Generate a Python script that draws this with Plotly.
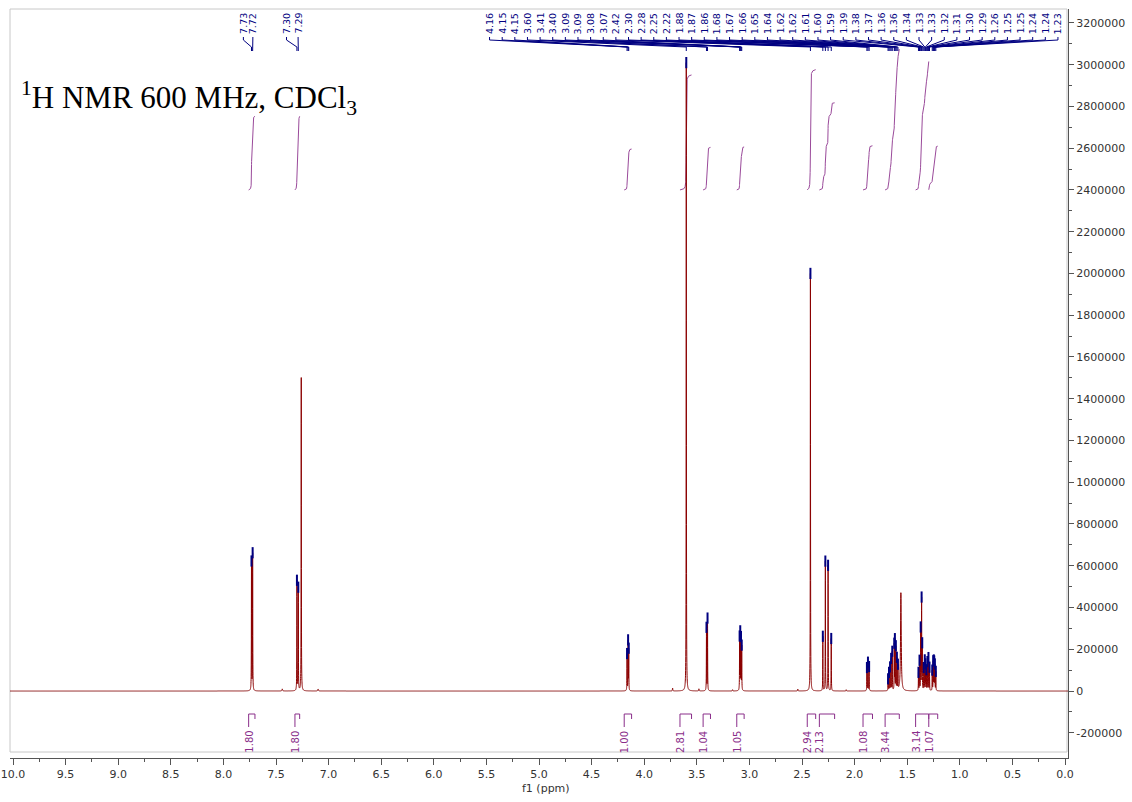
import numpy as np
import plotly.graph_objects as go

# ---------------- data ----------------
# labelled peaks (chemical shift in ppm, intensity)
grp1_ppm = [7.733, 7.722]
grp1_h = [615000, 655000]
grp2_ppm = [7.301, 7.288]
grp2_h = [525000, 490000]
grp3_ppm = [4.163, 4.153, 4.147, 3.600, 3.408, 3.398, 3.093, 3.087, 3.080, 3.073,
            2.420, 2.302, 2.278, 2.252, 2.222, 1.883, 1.873, 1.862,
            1.682, 1.673, 1.663, 1.653, 1.642, 1.623, 1.617, 1.608, 1.598, 1.588,
            1.393, 1.383, 1.372, 1.363, 1.357, 1.343, 1.333, 1.327, 1.318, 1.308,
            1.298, 1.288, 1.262, 1.253, 1.247, 1.243, 1.237, 1.228]
grp3_h = [175000, 235000, 195000, 3010000, 300000, 345000, 250000, 270000, 245000, 210000,
          2000000, 260000, 620000, 600000, 250000, 110000, 135000, 115000,
          55000, 85000, 110000, 150000, 185000, 215000, 235000, 205000, 150000, 115000,
          85000, 140000, 295000, 435000, 210000, 105000, 140000, 120000, 95000, 135000,
          155000, 110000, 95000, 135000, 130000, 125000, 120000, 90000]
# unlabelled signals: CHCl3, water and small impurities
other_ppm = [7.260, 1.560, 7.440, 7.100, 3.730, 3.480, 3.160, 2.540, 2.080]
other_h = [1500000, 470000, 10000, 9000, 14000, 10000, 6000, 9000, 6000]
other_w = [0.0012, 0.004, 0.003, 0.003, 0.002, 0.002, 0.002, 0.002, 0.002]

# integrations
int_start = [7.76, 7.32, 4.19, 3.66, 3.44, 3.12, 2.45, 2.335, 1.92, 1.71, 1.42, 1.295]
int_end = [7.70, 7.275, 4.12, 3.55, 3.37, 3.05, 2.37, 2.19, 1.83, 1.575, 1.295, 1.21]
int_val = [1.80, 1.80, 1.00, 2.81, 1.04, 1.05, 2.94, 2.13, 1.08, 3.44, 3.14, 1.07]

x_tickvals = [10.0, 9.5, 9.0, 8.5, 8.0, 7.5, 7.0, 6.5, 6.0, 5.5, 5.0, 4.5, 4.0,
              3.5, 3.0, 2.5, 2.0, 1.5, 1.0, 0.5, 0.0]
y_tickvals = [-200000, 0, 200000, 400000, 600000, 800000, 1000000, 1200000, 1400000,
              1600000, 1800000, 2000000, 2200000, 2400000, 2600000, 2800000,
              3000000, 3200000]

# ---------------- layout constants ----------------
W, H = 1132, 802
PL, PR, PT, PB = 10, 1068, 9, 758          # plot area in pixels
X_RANGE = [10.0285, -0.0285]
Y_RANGE = [-320930, 3266780]
LW = 0.0012                                  # default half-width (ppm)
INT_BASE = 2400000
INT_SCALE = 196000

RED = "#8b0000"
NAVY = "#000080"
PURPLE = "#9a4a9a"
PURPLE_TXT = "#8a2e8a"
AX = "#555555"
TXT = "#333333"


def py_to_paper(py):
    return (PB - py) / (PB - PT)


def px_to_paper(px):
    return (px - PL) / (PR - PL)


def py_to_data(py):
    return Y_RANGE[1] - (py - PT) / (PB - PT) * (Y_RANGE[1] - Y_RANGE[0])


# ---------------- spectrum ----------------
all_ppm = np.array(grp1_ppm + grp2_ppm + grp3_ppm + other_ppm)
all_h = np.array(grp1_h + grp2_h + grp3_h + other_h, dtype=float)
all_w = np.array([LW] * (len(grp1_ppm) + len(grp2_ppm) + len(grp3_ppm)) + other_w)

x = np.arange(-80, 20080) * 0.0005
spec = np.zeros_like(x)
for p, h, w in zip(all_ppm, all_h, all_w):
    spec += h * w ** 2 / ((x - p) ** 2 + w ** 2)

fig = go.Figure()

# integral curves
for s, e, v in zip(int_start, int_end, int_val):
    m = (x <= s + 1e-9) & (x >= e - 1e-9)
    xs = x[m][::-1]
    ys = spec[m][::-1]
    cum = np.cumsum(ys)
    frac = cum / cum[-1]
    fig.add_trace(go.Scatter(x=xs, y=INT_BASE + v * INT_SCALE * frac, mode="lines",
                             line=dict(color=PURPLE, width=1), hoverinfo="skip",
                             showlegend=False))

# spectrum line
fig.add_trace(go.Scatter(x=x, y=spec, mode="lines", line=dict(color=RED, width=1, simplify=False),
                         hoverinfo="skip", showlegend=False))

# peak-pick markers
lab_ppm = np.array(grp1_ppm + grp2_ppm + grp3_ppm)
lab_y = np.interp(lab_ppm[::-1], x, spec)[::-1]
fig.add_trace(go.Scatter(x=lab_ppm, y=lab_y, mode="markers",
                         marker=dict(symbol="line-ns", size=8, line=dict(color=NAVY, width=2)),
                         hoverinfo="skip", showlegend=False))

annotations = []

# peak label header
hdr_groups = [(grp1_ppm, 7.81, 7.72), (grp2_ppm, 7.40, 7.29), (grp3_ppm, 5.47, 0.067)]
lx_all, ly_all = [], []
for ppms, left, right in hdr_groups:
    pos = np.linspace(left, right, len(ppms))
    for p, lp in zip(ppms, pos):
        lx_all += [lp, lp, p, p, None]
        ly_all += [py_to_data(37), py_to_data(40), py_to_data(47), py_to_data(51), None]
        annotations.append(dict(text=f"{p:.2f}", x=lp, xref="x", y=py_to_paper(36), yref="paper",
                                textangle=-90, xanchor="center", yanchor="bottom", showarrow=False,
                                font=dict(family="DejaVu Sans", size=9.5, color=NAVY)))
fig.add_trace(go.Scatter(x=lx_all, y=ly_all, mode="lines", line=dict(color=NAVY, width=1),
                         hoverinfo="skip", showlegend=False, cliponaxis=False))

# integration brackets
bx, by = [], []
for s, e, v in zip(int_start, int_end, int_val):
    bx += [s, s, None, s, e, None, e, e, None]
    by += [py_to_data(727), py_to_data(714), None, py_to_data(714), py_to_data(714), None,
           py_to_data(714), py_to_data(719), None]
    annotations.append(dict(text=f"{v:.2f}", x=s, xref="x", y=py_to_paper(729), yref="paper",
                            textangle=-90, xanchor="center", yanchor="top", showarrow=False,
                            font=dict(family="DejaVu Sans", size=10, color=PURPLE_TXT)))
fig.add_trace(go.Scatter(x=bx, y=by, mode="lines", line=dict(color=PURPLE_TXT, width=1),
                         hoverinfo="skip", showlegend=False, cliponaxis=False))

# title text and axis title
annotations.append(dict(text="<sup>1</sup>H NMR 600 MHz, CDCl<sub>3</sub>",
                        x=px_to_paper(19), xref="paper", y=py_to_paper(98), yref="paper",
                        xanchor="left", yanchor="middle", showarrow=False,
                        font=dict(family="Liberation Serif", size=31, color="black")))
annotations.append(dict(text="f1 (ppm)", x=px_to_paper(546), xref="paper", y=py_to_paper(788),
                        yref="paper", xanchor="center", yanchor="middle", showarrow=False,
                        font=dict(family="DejaVu Sans", size=11, color=TXT)))

x_minor = [v - 0.25 for v in x_tickvals if v > 0]
y_minor = [v + 100000 for v in y_tickvals[:-1]]

fig.update_layout(
    width=W, height=H,
    margin=dict(l=PL, r=W - PR, t=PT, b=H - PB, autoexpand=False),
    paper_bgcolor="white", plot_bgcolor="white",
    showlegend=False,
    annotations=annotations,
    shapes=[dict(type="rect", xref="paper", yref="paper", x0=0, x1=px_to_paper(1067),
                 y0=py_to_paper(752), y1=1, line=dict(color="#c8c8c8", width=1), layer="below")],
    xaxis=dict(range=X_RANGE, showgrid=False, zeroline=False, showline=True, linecolor=AX,
               linewidth=1, ticks="outside", ticklen=6, tickcolor=AX, automargin=False,
               tickmode="array", tickvals=x_tickvals, ticktext=[f"{v:.1f}" for v in x_tickvals],
               tickfont=dict(family="DejaVu Sans", size=11, color=TXT),
               minor=dict(tickmode="array", tickvals=x_minor, ticks="outside", ticklen=3,
                          tickcolor=AX)),
    yaxis=dict(range=Y_RANGE, side="right", showgrid=False, zeroline=False, showline=True,
               linecolor=AX, linewidth=1, ticks="outside", ticklen=5, tickcolor=AX,
               automargin=False,
               tickmode="array", tickvals=y_tickvals, ticktext=[str(v) for v in y_tickvals],
               tickfont=dict(family="DejaVu Sans", size=11, color=TXT),
               minor=dict(tickmode="array", tickvals=y_minor, ticks="outside", ticklen=3,
                          tickcolor=AX)),
)

fig.write_html("out.html", config={"displayModeBar": False},
               post_script="document.body.style.margin='0px';")
